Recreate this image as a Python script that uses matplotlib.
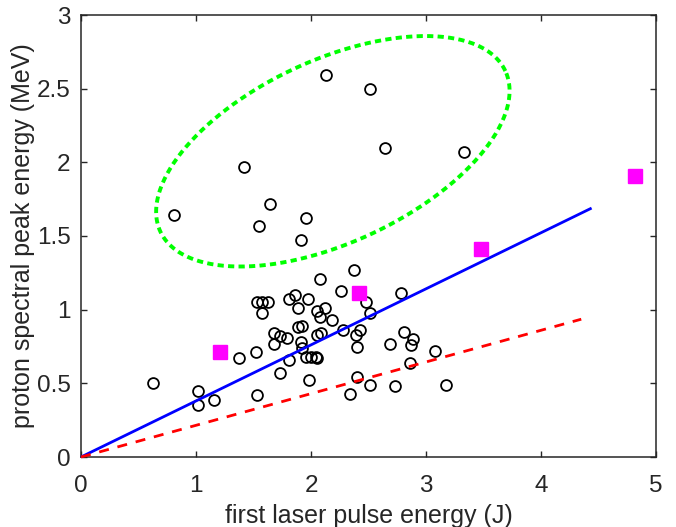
import numpy as np
import matplotlib
matplotlib.use("Agg")
import matplotlib.pyplot as plt

# ---- data ----
circle_x = [2.13, 2.51, 2.64, 3.33, 1.42, 0.81, 1.64, 1.55, 1.96, 1.91,
            2.37, 2.08, 1.53, 1.57, 1.63, 1.57, 1.81, 1.86, 1.89, 1.97,
            2.05, 2.12, 2.08, 2.18, 2.26, 2.48, 2.51, 1.68, 1.73, 1.79,
            1.68, 1.89, 1.92, 1.91, 1.92, 1.96, 2.00, 2.04, 2.05, 2.09,
            2.28, 2.43, 2.39, 2.40, 1.52, 1.37, 1.81, 1.73, 1.98, 2.40,
            2.51, 2.34, 2.73, 3.17, 2.78, 2.81, 2.89, 2.87, 2.69, 3.08,
            2.86, 0.63, 1.02, 1.02, 1.16, 1.53, 2.05]
circle_y = [2.59, 2.50, 2.10, 2.07, 1.97, 1.64, 1.72, 1.57, 1.62, 1.47,
            1.27, 1.21, 1.05, 1.05, 1.05, 0.98, 1.07, 1.10, 1.01, 1.07,
            0.99, 1.01, 0.95, 0.93, 1.13, 1.05, 0.98, 0.84, 0.82, 0.81,
            0.77, 0.88, 0.89, 0.78, 0.74, 0.68, 0.68, 0.68, 0.83, 0.84,
            0.86, 0.86, 0.83, 0.75, 0.71, 0.67, 0.66, 0.57, 0.52, 0.54,
            0.49, 0.43, 0.48, 0.49, 1.11, 0.85, 0.80, 0.76, 0.77, 0.72,
            0.64, 0.50, 0.45, 0.35, 0.39, 0.42, 0.67]

square_x = [1.21, 2.42, 3.48, 4.82]
square_y = [0.71, 1.11, 1.41, 1.91]

blue_slope = 0.3805
blue_xmax = 4.44
red_slope = 0.215
red_xmax = 4.35

ellipse_center = (2.19, 2.075)
ellipse_u = (1.50, 0.545)
ellipse_v = (-0.334, 0.561)

xticks = [0, 1, 2, 3, 4, 5]
xtick_labels = ['0', '1', '2', '3', '4', '5']
yticks = [0, 0.5, 1, 1.5, 2, 2.5, 3]
ytick_labels = ['0', '0.5', '1', '1.5', '2', '2.5', '3']

# ---- figure ----
plt.rcParams['font.family'] = ['Liberation Sans', 'DejaVu Sans']
txt = '#262626'

fig = plt.figure(figsize=(6.76, 5.27), dpi=100)
ax = fig.add_axes([81/676, 1 - 457/527, 575/676, 442/527])

ax.plot(circle_x, circle_y, linestyle='none', marker='o', ms=7.8,
        mfc='none', mec='black', mew=1.3, zorder=2)

xb = np.array([0, blue_xmax])
ax.plot(xb, blue_slope * xb, color='#0000FF', lw=2.0, zorder=3,
        solid_capstyle='butt', clip_on=False)
xr = np.array([0, red_xmax])
ax.plot(xr, red_slope * xr, color='#FF0000', lw=2.0, zorder=3,
        dashes=(3.6, 3.2), clip_on=False)

ax.plot(square_x, square_y, linestyle='none', marker='s', ms=10,
        mfc='#FF00FF', mec='#FF00FF', zorder=4)

t = np.linspace(0, 2 * np.pi, 400)
ex = ellipse_center[0] + ellipse_u[0] * np.cos(t) + ellipse_v[0] * np.sin(t)
ey = ellipse_center[1] + ellipse_u[1] * np.cos(t) + ellipse_v[1] * np.sin(t)
ax.plot(ex, ey, color='#00FF00', lw=2.8, dashes=(1.6, 1.1), zorder=3)

ax.set_xlim(0, 5)
ax.set_ylim(0, 3)
ax.set_xticks(xticks)
ax.set_xticklabels(xtick_labels)
ax.set_yticks(yticks)
ax.set_yticklabels(ytick_labels)

ax.tick_params(direction='in', length=4.5, width=1.0, colors=txt,
               labelsize=17.5, top=True, right=True)
ax.tick_params(axis='x', pad=13)
ax.tick_params(axis='y', pad=7.5)
for s in ax.spines.values():
    s.set_color(txt)
    s.set_linewidth(1.1)

ax.set_xlabel('first laser pulse energy (J)', fontsize=18, color=txt, labelpad=5)
ax.set_ylabel('proton spectral peak energy (MeV)', fontsize=18, color=txt, labelpad=1.5)

fig.savefig('out.png', dpi=100)
